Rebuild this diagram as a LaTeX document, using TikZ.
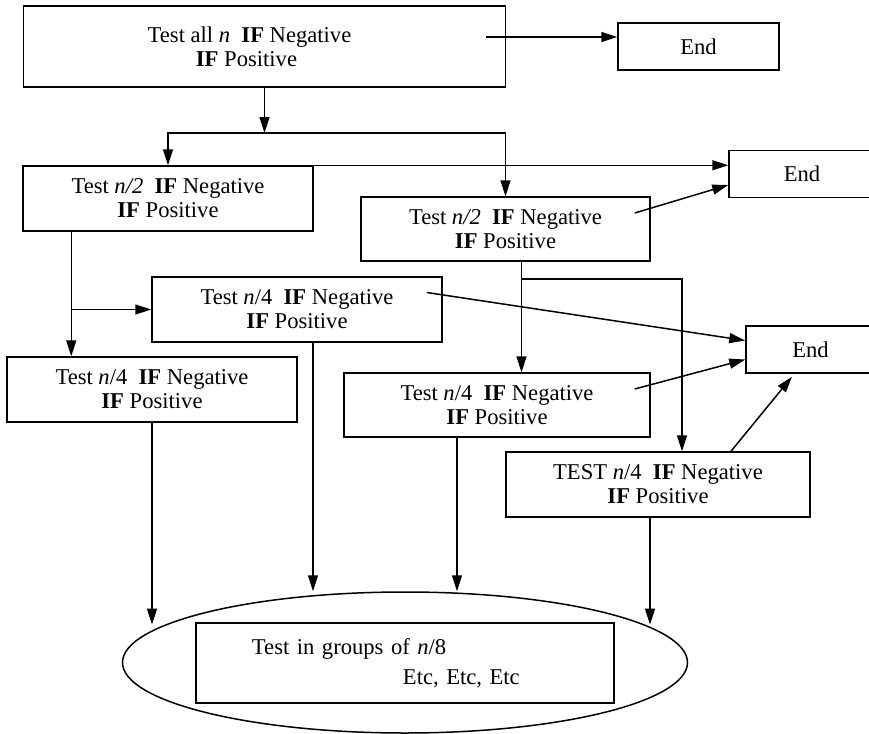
\documentclass[tikz,border=0pt]{standalone}
\usepackage{fontspec}
\setmainfont{Liberation Serif}
\usepackage{tikz}
\usetikzlibrary{arrows.meta, shapes.geometric, calc}

\tikzset{
  box/.style={draw, line width=0.75pt, align=center, inner sep=2pt,
    font=\fontsize{11.3}{12}\selectfont},
  endbox/.style={box, minimum height=23.5pt},
  arr/.style={-{Triangle[length=8pt, width=5pt]}, line width=0.75pt},
}

\begin{document}
\begin{tikzpicture}[x=0.5pt, y=-0.5pt]
  \useasboundingbox (0,0) rectangle (869,734);

  \node[box, minimum width=241pt, minimum height=40.5pt] (top) at (264.5,46.5)
    {Test all \textit{n}~~\textbf{IF} Negative\hspace*{15pt}\\\textbf{IF} Positive\hspace*{18pt}};
  \node[endbox, minimum width=80.5pt] (end1) at (698.5,46.5) {End};

  \node[box, minimum width=145pt, minimum height=32.5pt] (h2a) at (168,198.5)
    {Test \textit{n/2}~~\textbf{IF} Negative\\\textbf{IF} Positive};
  \node[box, minimum width=144.5pt, minimum height=32pt] (h2b) at (505.5,229)
    {Test \textit{n/2}~~\textbf{IF} Negative\\\textbf{IF} Positive};
  \node[endbox, minimum width=73pt] (end2) at (802,174) {End};

  \node[box, minimum width=145pt, minimum height=32.5pt] (q1) at (297,309.5)
    {Test \textit{n}/4~~\textbf{IF} Negative\\\textbf{IF} Positive};
  \node[box, minimum width=145pt, minimum height=32.5pt] (q0) at (152,389.5)
    {Test \textit{n}/4~~\textbf{IF} Negative\\\textbf{IF} Positive};
  \node[box, minimum width=153pt, minimum height=32pt] (q2) at (497,405)
    {Test \textit{n}/4~~\textbf{IF} Negative\\\textbf{IF} Positive};
  \node[box, minimum width=152pt, minimum height=32.5pt] (q3) at (658,484.5)
    {TEST \textit{n}/4~~\textbf{IF} Negative\\\textbf{IF} Positive};
  \node[endbox, minimum width=64.5pt] (end3) at (810.5,349.5) {End};

  \node[draw, ellipse, line width=0.75pt, inner sep=0pt, minimum width=282.5pt,
    minimum height=70.5pt] (ell) at (405,662.5) {};
  \node[box, inner xsep=0pt, text width=209pt, align=left, minimum height=40pt] (grp) at (405,663)
    {\hspace*{28pt}Test in groups of \textit{n}/8\\[3pt]\hspace*{103.5pt}Etc, Etc, Etc};

  \draw[arr] ([shift={(-20,-9.5)}]top.east) coordinate (o1) -- (o1 -| end1.west);
  \coordinate (j1) at (264.5,133);
  \draw[arr] (top.south) -- (j1);
  \draw[arr] (j1) -| (h2a.north);
  \draw[arr] (j1) -| (h2b.north);

  \draw[arr] (h2a.north east) -- (h2a.north east -| end2.west);
  \draw[arr] ([shift={(-16,-16)}]h2b.east) -- ([shift={(0,11)}]end2.west);

  \coordinate (b1) at ([shift={(49,0)}]h2a.south west);
  \draw[arr] (b1) -- (b1 |- q0.north);
  \draw[arr] (b1 |- q1.west) -- (q1.west);

  \coordinate (b2) at ([shift={(16,0)}]h2b.south);
  \draw[arr] (b2) -- (b2 |- q2.north);
  \draw[arr] ([shift={(0,17)}]b2) -| ([shift={(24,0)}]q3.north);

  \draw[arr] ([shift={(-16,-17)}]q1.east) -- ([shift={(0,-9)}]end3.west);
  \draw[arr] ([shift={(-16,-16)}]q2.east) -- ([shift={(0,10)}]end3.west);
  \draw[arr] ([shift={(73,0)}]q3.north) -- ([shift={(-18.5,3)}]end3.south);

  \foreach \b/\dx/\a in {q0/0/171, q1/16/90, q2/-40/90, q3/-8/9}{
    \draw[arr] ([shift={(\dx,0)}]\b.south) coordinate (s) -- (s |- ell.\a);
  }
\end{tikzpicture}
\end{document}
